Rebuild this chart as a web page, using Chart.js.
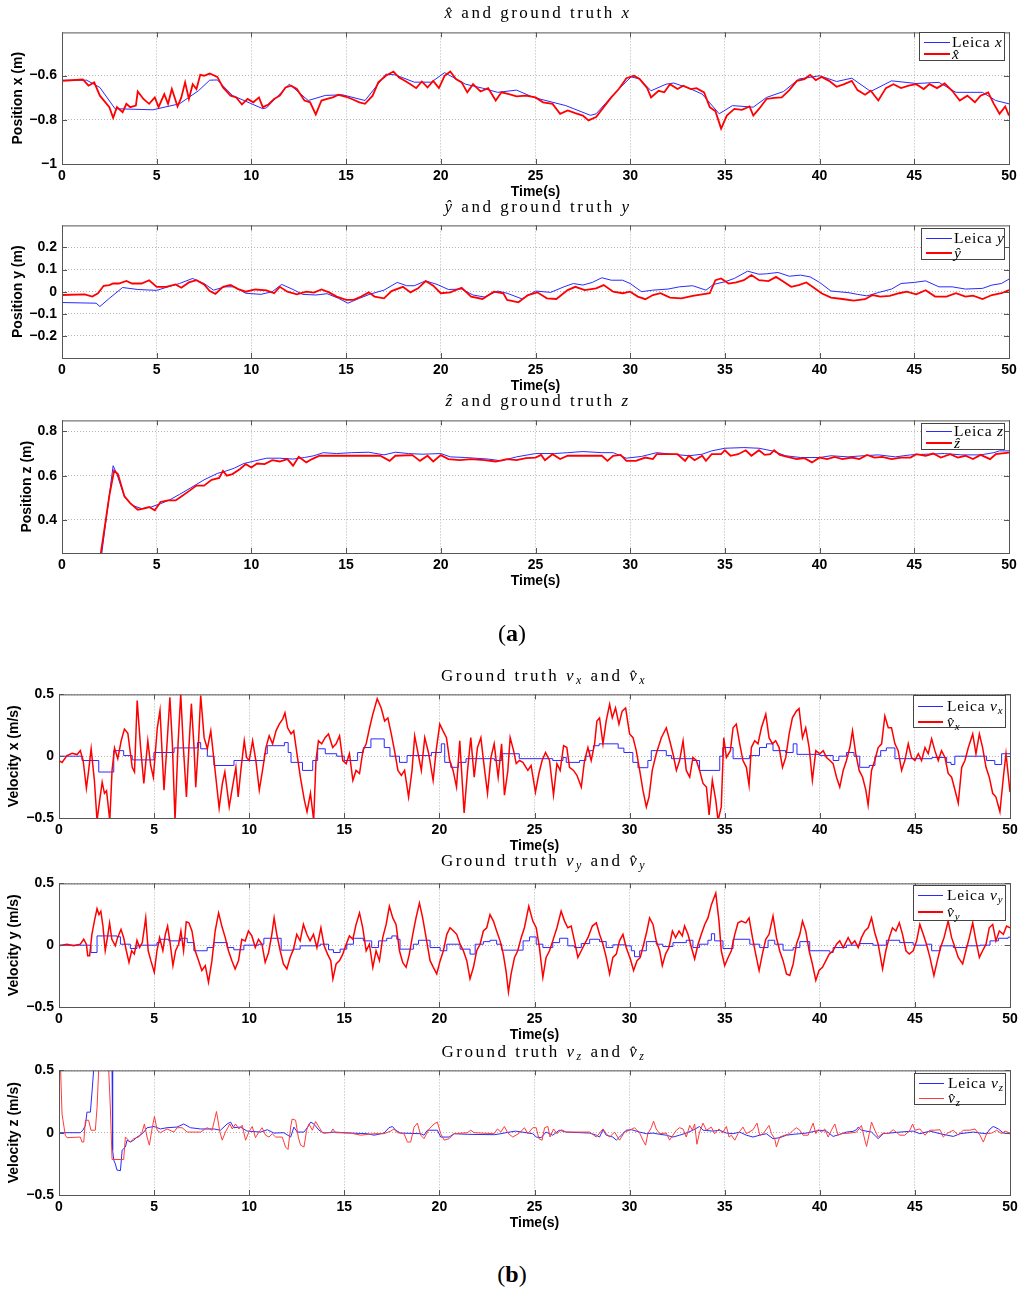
<!DOCTYPE html>
<html>
<head>
<meta charset="utf-8">
<script src="https://cdn.jsdelivr.net/npm/chart.js@4.4.1/dist/chart.umd.min.js"></script>
<style>
  body { margin: 0; background: #fff; }
  #page { position: relative; width: 1024px; height: 1291px; overflow: hidden; background: #fff; }
  #page canvas { position: absolute; left: 0; }
  .ttl { position: absolute; transform: translate(-50%, -50%); font-family: 'Liberation Serif', 'DejaVu Serif', serif; font-size: 17px; letter-spacing: 2.5px; white-space: nowrap; color: #000; }
  .ttl sub, .lg sub { font-size: 70%; vertical-align: -3px; }
  .lg { position: absolute; box-sizing: border-box; background: #fff; border: 1px solid #444; font-family: 'Liberation Serif', serif; font-size: 15.5px; letter-spacing: 0.8px; color: #000; }
  .lg .row { position: absolute; height: 0; display: flex; align-items: center; white-space: nowrap; }
  .lg .sw { display: inline-block; }
  .tag { position: absolute; transform: translate(-50%, -50%); font-family: 'Liberation Serif', serif; font-size: 24px; }
</style>
</head>
<body>
<div id="page"></div>
<script>
// tick positions
const timeTicks = [0, 5, 10, 15, 20, 25, 30, 35, 40, 45, 50];
const posXTicks = [-1, -0.8, -0.6];
const posYTicks = [-0.2, -0.1, 0, 0.1, 0.2];
const posZTicks = [0.4, 0.6, 0.8];
const velTicks = [-0.5, 0, 0.5];

// [time (s), value]
const leicaPosX = [[0,-0.621],[1.3,-0.621],[2.0,-0.654],[2.8,-0.75],[4.8,-0.755],[6.2,-0.728],[7.2,-0.669],[7.8,-0.621],[8.2,-0.62],[9.0,-0.69],
  [10.6,-0.75],[10.8,-0.746],[12.0,-0.639],[13.0,-0.713],[13.9,-0.69],[14.8,-0.687],[16.0,-0.713],[17.1,-0.594],[17.6,-0.597],[18.6,-0.63],
  [19.5,-0.63],[20.2,-0.587],[21.3,-0.639],[22.2,-0.657],[23.0,-0.676],[24.0,-0.666],[24.9,-0.699],[26.6,-0.736],[27.9,-0.78],[28.2,-0.773],
  [29.3,-0.669],[30.05,-0.606],[30.5,-0.616],[31.1,-0.669],[31.9,-0.639],[32.3,-0.634],[33.1,-0.657],[33.8,-0.684],[34.7,-0.773],[35.4,-0.736],
  [36.5,-0.743],[37.2,-0.699],[38.1,-0.672],[38.9,-0.616],[40.0,-0.601],[40.9,-0.627],[41.7,-0.612],[42.7,-0.672],[43.8,-0.624],[45.1,-0.636],
  [46.3,-0.631],[47.2,-0.676],[48.6,-0.676],[49.3,-0.713],[50,-0.728]];
const estPosX = [[0,-0.624],[1.1,-0.618],[1.4,-0.646],[1.7,-0.631],[2.0,-0.691],[2.5,-0.743],[2.7,-0.791],[2.9,-0.743],[3.2,-0.766],[3.4,-0.728],
  [3.6,-0.743],[3.9,-0.736],[4.0,-0.672],[4.3,-0.706],[4.6,-0.728],[4.9,-0.699],[5.1,-0.743],[5.4,-0.684],[5.6,-0.728],[5.8,-0.661],
  [6.1,-0.74],[6.3,-0.699],[6.5,-0.631],[6.7,-0.706],[6.9,-0.639],[7.1,-0.661],[7.3,-0.597],[7.5,-0.601],[7.8,-0.591],[8.2,-0.606],
  [8.5,-0.654],[8.9,-0.691],[9.2,-0.699],[9.5,-0.731],[9.8,-0.706],[10.1,-0.721],[10.4,-0.699],[10.6,-0.743],[10.9,-0.731],[11.2,-0.706],
  [11.5,-0.691],[11.8,-0.654],[12.1,-0.646],[12.4,-0.661],[12.8,-0.713],[13.1,-0.721],[13.4,-0.776],[13.7,-0.713],[14.0,-0.706],[14.3,-0.699],
  [14.6,-0.687],[15.0,-0.696],[15.3,-0.706],[15.7,-0.721],[16.0,-0.728],[16.4,-0.691],[16.7,-0.631],[17.1,-0.601],[17.5,-0.582],[17.8,-0.609],
  [18.1,-0.624],[18.4,-0.639],[18.7,-0.657],[19.0,-0.627],[19.3,-0.654],[19.6,-0.624],[19.9,-0.657],[20.2,-0.601],[20.5,-0.582],[20.8,-0.616],
  [21.1,-0.631],[21.4,-0.676],[21.7,-0.639],[22.1,-0.672],[22.5,-0.657],[22.9,-0.713],[23.2,-0.676],[23.6,-0.684],[24.0,-0.694],[24.5,-0.691],
  [25.0,-0.699],[25.4,-0.721],[25.9,-0.728],[26.3,-0.773],[26.7,-0.758],[27.1,-0.77],[27.5,-0.781],[27.8,-0.803],[28.2,-0.788],[28.6,-0.743],
  [29.0,-0.699],[29.4,-0.661],[29.8,-0.612],[30.2,-0.601],[30.5,-0.616],[30.9,-0.657],[31.1,-0.699],[31.5,-0.669],[31.8,-0.676],[32.1,-0.639],
  [32.5,-0.661],[32.8,-0.646],[33.2,-0.661],[33.5,-0.657],[33.9,-0.676],[34.2,-0.743],[34.5,-0.761],[34.8,-0.84],[35.1,-0.781],[35.5,-0.751],
  [35.9,-0.755],[36.3,-0.74],[36.5,-0.781],[36.8,-0.751],[37.2,-0.706],[37.6,-0.701],[38.0,-0.699],[38.4,-0.666],[38.8,-0.624],[39.2,-0.616],
  [39.5,-0.597],[39.8,-0.621],[40.1,-0.606],[40.5,-0.624],[40.9,-0.651],[41.3,-0.639],[41.7,-0.624],[42.0,-0.666],[42.4,-0.687],[42.7,-0.669],
  [43.1,-0.713],[43.5,-0.657],[43.9,-0.639],[44.3,-0.657],[44.7,-0.646],[45.1,-0.639],[45.5,-0.661],[45.8,-0.639],[46.2,-0.657],[46.6,-0.636],
  [47.0,-0.669],[47.4,-0.713],[47.8,-0.691],[48.2,-0.721],[48.5,-0.691],[48.9,-0.676],[49.2,-0.728],[49.5,-0.773],[49.8,-0.74],[50,-0.781]];

const leicaPosY = [[0,-0.049],[1.8,-0.052],[2.0,-0.067],[2.5,-0.03],[3.2,0.019],[4.0,0.01],[5.0,0.006],[5.6,0.022],[6.2,0.037],[6.9,0.06],
  [7.5,0.037],[8.0,0.007],[8.6,0.022],[9.1,0.022],[9.7,-0.007],[10.5,-0.012],[11.1,0],[11.6,0.033],[12.2,0.01],[12.7,-0.012],
  [13.4,-0.015],[14.0,-0.009],[14.6,-0.03],[15.1,-0.052],[15.7,-0.03],[16.3,-0.01],[17.0,0.007],[17.7,0.042],[18.2,0.027],[18.6,0.027],
  [19.2,0.049],[19.8,0.033],[20.4,0.01],[21.1,0.012],[21.7,-0.015],[22.3,-0.024],[23.0,0.003],[23.5,-0.007],[24.3,-0.033],[25.0,0.003],
  [25.8,-0.003],[26.5,0.022],[27.0,0.037],[27.5,0.03],[28.0,0.042],[28.5,0.063],[29.0,0.052],[29.6,0.052],[30.0,0.037],[30.6,0],
  [31.2,0.007],[32.0,0.012],[32.6,0.022],[33.3,0.027],[34.0,0.007],[34.4,0.033],[35.0,0.045],[35.5,0.06],[36.2,0.093],[36.8,0.079],
  [37.2,0.081],[37.8,0.087],[38.4,0.07],[39.0,0.075],[39.5,0.067],[40.0,0.042],[40.6,0.003],[41.5,-0.004],[42.0,-0.012],[42.5,-0.019],
  [43.1,-0.004],[43.8,0.012],[44.3,0.037],[45.0,0.042],[45.6,0.049],[46.3,0.022],[47.0,0.022],[47.7,0.012],[48.6,0.015],[49.1,0.03],
  [49.6,0.037],[50,0.057]];
const estPosY = [[0,-0.015],[1.2,-0.012],[1.6,-0.022],[1.9,-0.007],[2.2,0.027],[2.5,0.03],[2.7,0.037],[3.0,0.037],[3.4,0.049],[3.7,0.037],
  [4.2,0.037],[4.6,0.052],[5.0,0.022],[5.5,0.022],[6.0,0.033],[6.3,0.018],[6.7,0.042],[7.1,0.052],[7.5,0.033],[7.8,0.003],
  [8.1,-0.01],[8.5,0.022],[8.9,0.03],[9.3,0.012],[9.7,0],[10.2,0.01],[10.8,0.006],[11.2,-0.007],[11.5,0.022],[11.9,0],
  [12.4,-0.012],[12.9,0],[13.3,-0.004],[13.7,0.01],[14.1,-0.003],[14.5,-0.022],[15.0,-0.037],[15.4,-0.037],[15.8,-0.022],[16.2,-0.003],
  [16.5,-0.022],[17.0,-0.03],[17.4,0.003],[18.0,0.022],[18.4,-0.003],[18.8,0.015],[19.2,0.048],[19.6,0.027],[20.0,-0.007],[20.5,-0.003],
  [21.1,0.018],[21.6,-0.022],[22.2,-0.033],[22.8,0],[23.3,-0.007],[23.5,-0.037],[24.1,-0.048],[24.6,-0.015],[25.1,-0.003],[25.6,-0.03],
  [26.1,-0.033],[26.7,0.007],[27.1,0.022],[27.6,0.007],[28.2,0.015],[28.6,0.03],[29.1,0],[29.6,-0.007],[30.0,0],[30.4,-0.022],
  [30.8,-0.034],[31.2,-0.015],[31.6,-0.007],[32.1,-0.027],[32.7,-0.03],[33.3,-0.019],[33.8,-0.012],[34.2,-0.007],[34.5,0.052],[34.8,0.06],
  [35.2,0.037],[35.6,0.042],[36.0,0.052],[36.4,0.075],[36.8,0.052],[37.3,0.048],[37.7,0.067],[38.1,0.045],[38.5,0.022],[38.9,0.03],
  [39.3,0.042],[39.7,0.018],[40.1,-0.007],[40.6,-0.027],[41.2,-0.033],[41.8,-0.04],[42.4,-0.034],[42.8,-0.015],[43.2,-0.022],[43.7,-0.019],
  [44.2,-0.007],[44.6,0],[45.1,-0.012],[45.6,0.007],[46.1,-0.022],[46.7,-0.022],[47.2,-0.007],[47.7,-0.022],[48.1,-0.018],[48.6,-0.033],
  [49.1,-0.015],[49.6,-0.007],[50,0.007]];

const leicaPosZ = [[0,0],[1.75,0],[2.1,0.249],[2.7,0.645],[2.9,0.607],[3.3,0.503],[3.7,0.466],[4.2,0.451],[4.7,0.458],[5.2,0.473],
  [5.7,0.491],[6.2,0.515],[6.8,0.545],[7.5,0.581],[8.2,0.61],[8.7,0.622],[9.1,0.634],[9.6,0.655],[10.2,0.667],[10.8,0.679],
  [11.5,0.679],[12.2,0.675],[12.8,0.682],[13.3,0.69],[13.8,0.704],[14.5,0.7],[15.3,0.704],[16.2,0.706],[17.0,0.694],[17.6,0.706],
  [18.3,0.7],[19.0,0.697],[20.0,0.7],[20.5,0.685],[21.3,0.682],[22.5,0.675],[23.2,0.667],[24.0,0.685],[25.0,0.7],[26.0,0.7],
  [26.7,0.704],[27.5,0.709],[28.5,0.704],[29.1,0.704],[29.8,0.679],[30.6,0.687],[31.4,0.704],[32.2,0.697],[33.1,0.69],[33.8,0.697],
  [34.3,0.712],[35.0,0.724],[36.0,0.727],[36.8,0.724],[37.5,0.712],[38.2,0.69],[39.0,0.682],[40.0,0.682],[40.6,0.69],[41.5,0.685],
  [42.3,0.69],[43.1,0.694],[44.0,0.685],[44.8,0.694],[45.6,0.697],[46.6,0.7],[47.5,0.694],[48.5,0.694],[49.2,0.704],[49.5,0.712],[50,0.712]];
const estPosZ = [[0,0],[1.7,0],[2.05,0.249],[2.5,0.51],[2.75,0.622],[2.95,0.607],[3.3,0.506],[3.6,0.476],[4.0,0.446],[4.3,0.451],
  [4.6,0.458],[4.9,0.443],[5.2,0.481],[5.6,0.488],[6.0,0.488],[6.3,0.506],[6.7,0.53],[7.1,0.555],[7.5,0.555],[7.9,0.581],
  [8.3,0.59],[8.5,0.622],[8.7,0.6],[9.0,0.607],[9.4,0.63],[9.7,0.652],[10.0,0.637],[10.3,0.655],[10.7,0.652],[11.1,0.67],
  [11.5,0.664],[11.9,0.675],[12.2,0.645],[12.5,0.685],[12.9,0.66],[13.2,0.675],[13.6,0.69],[14.2,0.69],[15.0,0.69],[16.0,0.69],
  [16.8,0.69],[17.3,0.667],[17.6,0.69],[18.5,0.693],[18.9,0.667],[19.3,0.69],[19.6,0.664],[20.0,0.693],[20.4,0.675],[21.0,0.67],
  [21.6,0.675],[22.3,0.67],[22.9,0.664],[23.5,0.675],[24.0,0.67],[24.5,0.679],[25.0,0.682],[25.3,0.694],[25.5,0.67],[25.9,0.697],
  [26.3,0.675],[26.7,0.69],[28.5,0.69],[28.8,0.667],[29.1,0.69],[29.5,0.694],[29.8,0.667],[30.3,0.667],[30.8,0.682],[31.2,0.675],
  [31.4,0.697],[32.5,0.697],[32.9,0.667],[33.1,0.69],[33.4,0.67],[33.8,0.69],[34.0,0.667],[34.3,0.697],[34.8,0.697],[35.0,0.715],
  [35.3,0.69],[35.7,0.697],[36.1,0.715],[36.4,0.69],[36.8,0.715],[37.1,0.694],[37.4,0.697],[37.6,0.715],[37.9,0.694],[38.3,0.685],
  [38.8,0.675],[39.2,0.679],[39.6,0.66],[40.0,0.682],[40.4,0.675],[40.8,0.685],[41.2,0.675],[41.7,0.682],[42.1,0.675],[42.5,0.694],
  [42.9,0.682],[43.3,0.685],[43.8,0.675],[44.3,0.682],[44.8,0.682],[45.1,0.697],[45.6,0.69],[46.0,0.7],[46.4,0.682],[46.9,0.697],
  [47.3,0.682],[47.7,0.69],[48.1,0.675],[48.5,0.694],[49.0,0.675],[49.3,0.697],[50,0.704]];

// Leica velocities are sample-and-hold: each value holds until the next time
const leicaVelX = [[0,0],[1.21,-0.035],[2.09,-0.128],[2.88,0.045],[3.4,0.005],[3.85,-0.03],[4.99,0.03],[6.05,0.067],[7.28,0.11],[7.45,0.06],
  [7.8,0],[8.15,-0.075],[9.2,-0.035],[10.8,0.02],[10.95,0.085],[11.85,0.11],[12.05,0.03],[12.2,-0.05],[12.8,-0.115],[13.34,-0.035],
  [13.6,0.06],[14.0,0.02],[14.6,0],[15.0,-0.035],[15.7,0.03],[16.0,0.07],[16.4,0.14],[17.1,0.07],[17.4,0],[17.9,-0.05],
  [18.3,0.005],[19.58,0.03],[20.1,0.1],[20.28,-0.05],[20.6,-0.09],[21.0,-0.05],[21.4,-0.02],[22.9,-0.035],[23.27,0.02],[24.2,-0.02],
  [25.96,-0.035],[26.5,-0.01],[26.67,-0.05],[27.37,-0.035],[27.7,0],[27.9,0.045],[28.1,0.085],[28.4,0.1],[29.4,0.065],[29.7,0.03],
  [30.17,-0.05],[30.44,-0.093],[30.96,-0.035],[31.14,0.045],[31.93,0.005],[32.2,-0.02],[33.33,-0.035],[33.68,-0.115],[34.74,0],[34.9,0.07],
  [35.44,-0.02],[36.3,0.005],[36.83,0.07],[37.2,0.1],[37.54,0.045],[38.2,0.03],[38.6,0.1],[38.8,0.015],[40.0,0.005],[40.7,-0.035],
  [41.0,0],[41.4,0.03],[41.8,0],[42.1,-0.09],[42.6,-0.075],[42.9,0],[43.2,0.045],[43.5,0.067],[43.95,-0.02],[45.9,-0.01],
  [46.67,-0.05],[46.9,-0.067],[47.1,0],[48.77,-0.035],[49.2,-0.067],[49.56,0.02],[50,0.02]];
const estVelX = [[0,-0.035],[0.16,-0.05],[0.42,0.005],[0.69,0.024],[0.95,0.013],[1.12,0.045],[1.27,-0.035],[1.44,-0.26],[1.56,-0.115],[1.69,0.06],
  [1.86,-0.195],[2.0,-0.52],[2.14,-0.355],[2.27,-0.21],[2.39,-0.3],[2.5,-0.28],[2.67,-0.52],[2.79,-0.115],[2.92,0.067],[3.09,-0.02],
  [3.27,0.125],[3.44,0.22],[3.62,0.185],[3.85,-0.09],[3.97,-0.128],[4.11,0.45],[4.29,0.07],[4.46,-0.22],[4.67,0.125],[4.82,-0.075],
  [4.96,-0.17],[5.17,0.23],[5.31,0.37],[5.52,-0.275],[5.69,0.125],[5.83,0.477],[5.96,0.1],[6.1,-0.52],[6.26,0.1],[6.4,0.5],
  [6.54,0.07],[6.7,-0.33],[6.84,0.1],[6.96,0.425],[7.1,0.07],[7.19,-0.25],[7.33,0.1],[7.45,0.49],[7.63,0.15],[7.8,0.06],
  [7.98,0.205],[8.15,-0.035],[8.42,-0.42],[8.59,-0.22],[8.72,-0.128],[8.95,-0.41],[9.12,-0.25],[9.3,-0.09],[9.42,-0.33],[9.56,-0.115],
  [9.74,0.125],[9.86,-0.01],[10.0,-0.035],[10.18,0.125],[10.35,-0.035],[10.53,-0.275],[10.7,-0.115],[10.88,0.07],[11.05,0.165],[11.23,0.1],
  [11.41,0.205],[11.58,0.26],[11.76,0.3],[11.88,0.35],[12.02,0.23],[12.2,0.18],[12.34,0.205],[12.51,0.02],[12.69,-0.17],[12.9,-0.355],
  [13.04,-0.45],[13.22,-0.3],[13.39,-0.52],[13.51,-0.035],[13.64,0.125],[13.81,0.1],[13.99,0.15],[14.17,0.18],[14.39,0.07],[14.57,0.1],
  [14.75,0.165],[14.92,-0.035],[15.1,-0.06],[15.27,0.02],[15.45,-0.195],[15.62,-0.115],[15.8,-0.14],[15.98,0.045],[16.15,0.1],[16.33,0.23],
  [16.5,0.34],[16.73,0.465],[16.94,0.39],[17.12,0.285],[17.29,0.31],[17.47,0.18],[17.64,0.045],[17.82,-0.115],[18.0,-0.155],[18.17,-0.115],
  [18.38,-0.33],[18.56,-0.115],[18.7,0.165],[18.88,0.02],[19.05,-0.115],[19.23,0.15],[19.44,0.02],[19.67,-0.195],[19.84,0.06],[20.02,0.26],
  [20.19,0.205],[20.37,0.15],[20.54,-0.035],[20.72,-0.115],[20.9,-0.25],[21.07,0.125],[21.3,-0.46],[21.48,-0.115],[21.65,0.15],[21.83,-0.17],
  [22.0,0.07],[22.18,0.15],[22.36,-0.09],[22.53,-0.3],[22.71,-0.01],[22.88,0.1],[23.09,-0.17],[23.27,0.1],[23.42,-0.315],[23.6,-0.115],
  [23.72,0.15],[23.9,0.045],[24.04,-0.06],[24.21,-0.035],[24.39,-0.05],[24.65,-0.115],[24.82,-0.075],[25.05,-0.29],[25.23,-0.14],[25.4,-0.035],
  [25.58,0.03],[25.79,-0.035],[26.0,-0.315],[26.18,-0.06],[26.35,-0.115],[26.53,0.085],[26.7,0.07],[26.84,-0.09],[27.05,-0.115],[27.23,-0.155],
  [27.46,-0.25],[27.63,-0.035],[27.81,0.07],[27.98,-0.035],[28.16,0.1],[28.28,0.285],[28.42,0.31],[28.6,0.1],[28.77,0.285],[28.95,0.42],
  [29.09,0.31],[29.26,0.39],[29.44,0.26],[29.61,0.365],[29.79,0.39],[30.0,0.18],[30.18,0.15],[30.35,0.045],[30.53,-0.115],[30.7,-0.275],
  [30.88,-0.41],[31.02,-0.33],[31.19,-0.115],[31.4,0.02],[31.67,0.15],[31.93,0.23],[32.11,0.125],[32.28,0.02],[32.46,-0.115],[32.63,-0.035],
  [32.81,0.125],[32.98,-0.115],[33.16,-0.17],[33.33,-0.01],[33.51,-0.035],[33.68,-0.115],[33.86,-0.22],[34.04,-0.25],[34.18,-0.475],[34.35,-0.195],
  [34.53,-0.355],[34.65,-0.52],[34.82,-0.41],[34.95,0.15],[35.09,-0.01],[35.3,0.045],[35.44,0.23],[35.61,0.26],[35.79,0.1],[35.96,-0.035],
  [36.14,-0.09],[36.28,-0.235],[36.4,0.07],[36.58,0.125],[36.75,0.1],[36.93,0.23],[37.16,0.34],[37.33,0.15],[37.51,0.1],[37.68,0.125],
  [37.86,0.07],[38.04,-0.09],[38.21,-0.01],[38.39,0.18],[38.56,0.31],[38.77,0.365],[38.91,0.385],[39.09,0.15],[39.26,0.23],[39.44,0.07],
  [39.61,-0.195],[39.79,0.045],[40.0,0.02],[40.18,0.045],[40.35,-0.01],[40.53,-0.035],[40.7,-0.06],[40.88,-0.17],[41.05,-0.25],[41.23,-0.115],
  [41.4,-0.035],[41.58,0.07],[41.72,0.205],[41.89,0.02],[42.07,-0.115],[42.25,-0.17],[42.42,-0.275],[42.54,-0.395],[42.72,-0.115],[42.89,-0.035],
  [43.07,0.07],[43.25,0.1],[43.42,0.325],[43.6,0.23],[43.77,0.23],[43.95,0.1],[44.12,0.045],[44.3,-0.115],[44.47,-0.035],[44.65,0.1],
  [44.82,-0.01],[45.0,-0.035],[45.18,0.02],[45.35,-0.035],[45.53,0.07],[45.7,0.02],[45.88,0.14],[46.05,0.045],[46.23,-0.035],[46.4,0.045],
  [46.58,-0.01],[46.75,-0.14],[46.93,-0.17],[47.11,-0.275],[47.28,-0.38],[47.46,-0.09],[47.63,-0.035],[47.81,0.07],[48.04,0.18],[48.21,0.02],
  [48.39,0.18],[48.56,0.07],[48.74,-0.09],[48.91,-0.17],[49.09,-0.3],[49.26,-0.33],[49.47,-0.45],[49.65,-0.17],[49.79,0.02],[50,-0.29]];

const leicaVelY = [[0,0],[1.68,-0.059],[2.0,0.075],[3.05,0.068],[3.23,0.008],[3.75,-0.027],[4.1,0],[5.15,0.021],[5.33,0.048],[5.77,0.035],
  [6.39,0.056],[6.74,0.021],[7.09,-0.045],[7.79,-0.019],[8.14,0.021],[8.84,-0.019],[9.19,-0.037],[9.72,0],[10.5,0.008],[10.77,0.056],
  [11.68,-0.04],[12.33,-0.032],[12.68,-0.005],[13.73,0.008],[14.17,-0.037],[14.43,-0.059],[14.78,-0.032],[15.13,0.008],[15.48,0.056],[16.0,0.035],
  [16.44,-0.019],[16.8,0.035],[17.23,0.056],[17.5,0.075],[17.76,0.048],[17.93,-0.032],[18.63,0.008],[18.9,0.04],[19.51,-0.019],[20.04,-0.045],
  [20.39,0.008],[21.09,-0.032],[21.61,-0.072],[21.88,0.008],[22.31,0.029],[22.66,0.04],[23.01,0.008],[23.28,-0.04],[24.4,0.035],[24.74,0.067],
  [25.09,0.008],[25.44,-0.019],[25.96,0.021],[26.32,0.056],[26.75,-0.005],[27.1,-0.019],[27.46,0.013],[27.9,0.048],[28.42,0.029],[28.77,-0.019],
  [29.12,0.003],[29.82,-0.005],[30.09,-0.045],[30.26,-0.093],[30.53,-0.045],[30.88,0.029],[31.4,0.008],[31.75,-0.011],[32.28,0.021],[32.98,0.04],
  [33.33,-0.019],[33.68,0.008],[34.12,0.04],[34.3,0.093],[34.47,0.035],[34.91,-0.027],[35.44,0.048],[36.32,0.008],[36.84,-0.019],[37.28,0.04],
  [37.63,0.008],[38.07,-0.04],[38.6,-0.019],[38.95,0.029],[39.47,-0.045],[40.53,-0.059],[40.7,-0.019],[41.4,0],[42.1,0.013],[42.8,0],
  [43.5,0.04],[44.2,0.021],[44.91,0],[45.6,0.008],[45.88,-0.045],[46.32,-0.005],[47.02,-0.019],[47.72,-0.005],[48.42,0],[48.95,0.035],
  [49.39,0.056],[49.9,0.065],[50,0.065]];
const estVelY = [[0,-0.005],[0.42,0.008],[0.77,-0.005],[1.12,0.008],[1.3,0.048],[1.44,0.008],[1.51,-0.085],[1.61,-0.085],[1.73,0.088],[1.86,0.195],
  [2.0,0.296],[2.1,0.248],[2.2,0.275],[2.31,0.155],[2.43,-0.045],[2.56,0.075],[2.66,0.18],[2.78,0.048],[2.96,-0.005],[3.08,0.061],
  [3.26,0.128],[3.4,0.061],[3.54,-0.045],[3.68,-0.139],[3.82,-0.045],[3.96,-0.072],[4.1,0.04],[4.24,-0.019],[4.38,0.021],[4.56,0.221],
  [4.69,-0.045],[4.83,-0.125],[5.01,-0.219],[5.15,-0.045],[5.29,0.061],[5.46,-0.045],[5.59,0.088],[5.71,0.155],[5.85,0.008],[5.99,-0.165],
  [6.13,-0.045],[6.29,0.008],[6.41,0.115],[6.55,-0.045],[6.69,0.189],[6.83,0.181],[6.99,0.115],[7.16,-0.045],[7.34,-0.125],[7.51,-0.205],
  [7.69,-0.165],[7.86,-0.299],[8.04,-0.125],[8.21,0.115],[8.39,0.261],[8.56,0.155],[8.74,0.061],[8.91,-0.045],[9.09,-0.125],[9.26,-0.192],
  [9.44,-0.125],[9.61,0.048],[9.79,0.035],[9.96,0.115],[10.14,0.075],[10.32,-0.019],[10.49,0.048],[10.67,0.008],[10.84,-0.139],[11.02,-0.059],
  [11.19,0.088],[11.31,0.221],[11.45,0.088],[11.63,-0.045],[11.8,-0.152],[11.98,-0.192],[12.15,-0.099],[12.33,-0.032],[12.5,0.088],[12.68,0.035],
  [12.85,0.168],[13.03,0.088],[13.2,0.035],[13.38,0.088],[13.56,-0.019],[13.77,0.141],[13.94,-0.005],[14.12,-0.072],[14.29,-0.125],[14.4,-0.272],
  [14.57,-0.152],[14.75,-0.125],[14.92,-0.072],[15.1,0.008],[15.27,0.075],[15.45,0.048],[15.62,0.168],[15.8,0.261],[15.97,0.141],[16.15,-0.045],
  [16.32,0.008],[16.5,-0.179],[16.67,-0.045],[16.85,-0.125],[17.02,0.061],[17.2,0.168],[17.37,0.315],[17.55,0.221],[17.72,0.168],[17.9,-0.045],
  [18.07,-0.139],[18.25,-0.179],[18.42,-0.072],[18.6,0.088],[18.77,0.221],[18.95,0.341],[19.12,0.221],[19.3,0.061],[19.51,-0.125],[19.68,-0.179],
  [19.86,-0.232],[20.04,-0.125],[20.21,-0.045],[20.39,0.088],[20.56,0.141],[20.74,0.115],[20.91,0.088],[21.09,0.008],[21.26,-0.045],[21.44,-0.125],
  [21.61,-0.272],[21.79,-0.179],[21.96,-0.045],[22.14,0.008],[22.31,0.115],[22.49,0.141],[22.66,0.248],[22.84,0.195],[23.01,0.115],[23.19,0.035],
  [23.36,-0.072],[23.5,-0.205],[23.63,-0.379],[23.77,-0.232],[23.95,-0.099],[24.12,-0.045],[24.3,0.061],[24.47,0.141],[24.7,0.315],[24.91,0.195],
  [25.09,0.141],[25.26,-0.019],[25.44,-0.259],[25.61,-0.099],[25.79,-0.045],[25.96,0.035],[26.18,0.141],[26.4,0.275],[26.58,0.195],[26.75,0.141],
  [26.93,0.155],[27.1,0.035],[27.28,-0.099],[27.46,-0.045],[27.63,0.008],[27.81,0.061],[28.04,0.155],[28.25,0.181],[28.42,0.088],[28.6,0.008],
  [28.77,-0.099],[28.95,-0.232],[29.12,-0.099],[29.3,-0.072],[29.47,0.035],[29.65,0.088],[29.82,-0.019],[30.04,-0.112],[30.21,-0.205],[30.39,-0.125],
  [30.56,-0.099],[30.74,0.008],[30.91,0.115],[31.05,0.221],[31.23,0.168],[31.4,0.035],[31.58,-0.045],[31.72,-0.165],[31.89,-0.072],[32.07,-0.019],
  [32.25,0.115],[32.42,0.061],[32.6,0.115],[32.77,0.075],[32.89,0.155],[33.07,0.088],[33.25,-0.019],[33.42,-0.112],[33.6,0.008],[33.77,0.088],
  [33.95,0.168],[34.12,0.221],[34.3,0.328],[34.53,0.421],[34.7,0.195],[34.82,-0.045],[35.0,-0.165],[35.18,-0.099],[35.35,-0.045],[35.53,0.088],
  [35.7,0.181],[35.88,0.195],[36.11,0.181],[36.28,0.221],[36.46,0.061],[36.63,-0.072],[36.81,-0.205],[36.98,-0.072],[37.16,0.048],[37.33,0.088],
  [37.54,0.235],[37.72,0.061],[37.89,-0.045],[38.07,-0.125],[38.25,-0.232],[38.42,-0.245],[38.6,-0.152],[38.77,0.008],[38.95,0.088],[39.09,0.195],
  [39.26,0.115],[39.44,-0.045],[39.61,-0.152],[39.79,-0.285],[39.96,-0.205],[40.14,-0.179],[40.32,-0.125],[40.49,-0.072],[40.7,-0.045],[40.88,0.008],
  [41.05,0.035],[41.23,-0.019],[41.49,0.061],[41.67,0.008],[41.84,0.035],[42.02,-0.019],[42.19,0.061],[42.37,0.115],[42.54,0.141],[42.72,0.221],
  [42.89,0.101],[43.07,0.008],[43.3,-0.192],[43.47,-0.045],[43.65,0.061],[43.82,0.141],[44.0,0.115],[44.18,0.181],[44.35,0.088],[44.53,-0.045],
  [44.7,-0.072],[44.91,-0.045],[45.09,0.035],[45.26,0.168],[45.44,0.088],[45.61,0.008],[45.79,-0.099],[46.0,-0.245],[46.18,-0.125],[46.35,-0.019],
  [46.53,0.061],[46.75,0.195],[46.93,0.061],[47.11,-0.019],[47.28,-0.099],[47.51,-0.152],[47.68,-0.045],[47.86,0.061],[48.04,0.181],[48.21,0.035],
  [48.39,-0.099],[48.56,-0.045],[48.74,0.008],[48.91,0.141],[49.09,0.168],[49.26,0.035],[49.44,0.115],[49.65,0.088],[49.82,0.155],[50,0.141]];

const leicaVelZ = [[0,0],[1.12,0],[1.26,0.02],[1.39,0.06],[1.47,0.165],[1.65,0.165],[1.74,0.335],[1.82,0.5],[1.9,0.9],[2.7,0.9],
  [2.79,0.5],[2.82,-0.14],[2.88,-0.22],[2.96,-0.25],[3.05,-0.3],[3.23,-0.305],[3.32,-0.14],[3.49,-0.115],[3.58,-0.06],[3.75,-0.075],
  [3.93,-0.06],[4.1,-0.035],[4.28,-0.02],[4.46,0.005],[4.63,0.04],[5.0,0.05],[5.33,0.03],[5.68,0.04],[6.2,0.045],[6.56,0.07],
  [6.91,0.04],[7.44,0.03],[8.14,0.03],[8.49,0.02],[8.84,0.07],[9.02,0.085],[9.19,0.04],[9.54,0.045],[9.89,0.013],[10.6,0.005],
  [10.95,0.024],[11.3,-0.003],[11.82,0],[12.18,-0.035],[12.35,0.045],[12.53,0.005],[12.88,0.005],[13.05,0.04],[13.23,0.085],[13.4,0.07],
  [13.67,0.02],[13.93,-0.003],[14.46,0.005],[15.33,-0.003],[16.21,-0.008],[16.56,-0.02],[17.09,-0.003],[17.35,0.04],[17.53,0.05],[17.7,0.02],
  [17.96,-0.003],[19.02,-0.008],[19.19,-0.02],[19.37,0.02],[19.89,0.02],[20.07,-0.035],[20.51,-0.035],[20.77,-0.008],[21.47,-0.013],[22.88,-0.016],
  [23.23,-0.008],[23.5,0],[24.0,0.013],[24.9,-0.008],[25.1,-0.035],[25.35,-0.04],[25.6,0.005],[25.96,-0.02],[26.3,0.02],[26.67,0.005],
  [27.9,-0.003],[28.25,-0.02],[28.42,-0.035],[28.6,0.024],[28.77,-0.02],[29.12,-0.035],[29.3,-0.06],[29.47,-0.035],[29.82,0.02],[30.09,0.024],
  [30.53,0.005],[30.88,-0.008],[31.23,-0.003],[31.58,-0.013],[31.93,-0.02],[32.28,-0.035],[32.63,-0.02],[32.98,-0.003],[33.33,0.02],[33.68,0.05],
  [33.86,0.02],[34.39,0.013],[34.74,0.02],[35.09,-0.003],[35.44,-0.008],[35.79,0.005],[36.14,-0.02],[36.49,-0.035],[36.84,-0.02],[37.19,-0.008],
  [37.54,-0.048],[37.89,-0.04],[38.25,-0.02],[38.6,-0.013],[38.95,-0.008],[39.3,-0.003],[40.0,0.02],[40.35,0.013],[40.7,-0.03],[41.05,-0.013],
  [41.4,0.005],[41.75,0.011],[41.93,0.024],[42.02,0.045],[42.19,0.02],[42.72,0.005],[43.07,-0.048],[43.33,-0.008],[44.21,0.005],[44.91,0.013],
  [45.26,-0.008],[45.79,0.013],[46.32,-0.008],[47.02,-0.03],[47.37,-0.008],[48.07,0.005],[48.42,-0.003],[48.77,-0.008],[48.95,0.03],[49.12,0.05],
  [49.39,0.03],[49.65,-0.003],[50,-0.008]];
const estVelZ = [[0,0.9],[0.16,0.15],[0.33,-0.02],[0.42,-0.04],[1.12,-0.035],[1.21,-0.075],[1.3,-0.075],[1.39,0.1],[1.56,0.1],[1.68,0.02],
  [1.91,0.02],[2.0,0.2],[2.2,0.9],[2.5,0.9],[2.7,0.2],[2.79,-0.215],[3.4,-0.215],[3.49,-0.035],[3.75,-0.075],[3.93,-0.048],
  [4.19,-0.035],[4.37,0.005],[4.49,0.07],[4.63,-0.035],[4.75,-0.1],[4.89,0.03],[5.02,0.13],[5.16,0.02],[5.33,0],[5.68,0.03],
  [6.04,0.005],[6.21,0.04],[6.47,0.04],[6.74,0.005],[7.44,0.005],[7.79,0.04],[8.05,0.02],[8.28,0.17],[8.46,0.005],[8.58,-0.06],
  [8.75,0.005],[8.98,0.07],[9.11,0.03],[9.28,0.07],[9.46,0.03],[9.63,0.06],[9.81,-0.06],[9.98,0.005],[10.16,0.05],[10.33,-0.04],
  [10.51,0.005],[10.68,0.04],[10.86,-0.02],[11.04,-0.035],[11.21,-0.008],[11.39,-0.035],[11.74,-0.035],[11.91,-0.115],[12.04,-0.135],[12.18,0.045],
  [12.26,0.11],[12.44,0.1],[12.58,-0.035],[12.7,-0.1],[12.88,-0.115],[13.02,0.02],[13.14,0.07],[13.32,0.02],[13.49,0.09],[13.67,0.045],
  [13.84,0],[14.28,0],[14.4,0.03],[14.54,0],[15.33,-0.003],[15.86,-0.02],[16.56,-0.008],[17.09,-0.008],[17.44,0.013],[17.61,0.03],
  [17.79,0],[18.14,-0.008],[18.32,-0.075],[18.49,-0.075],[18.67,0.045],[18.84,0.077],[19.02,-0.02],[19.19,-0.048],[19.46,0.03],[19.72,0.07],
  [19.89,0.085],[20.07,-0.008],[20.25,-0.06],[20.51,-0.048],[20.77,-0.008],[21.47,0],[21.65,0.02],[21.82,0],[22.88,-0.008],[23.05,0.03],
  [23.23,0.005],[23.42,0.05],[23.6,-0.003],[23.86,-0.035],[24.21,-0.003],[24.47,0.04],[24.65,-0.008],[24.91,0.04],[25.09,0.04],[25.23,-0.048],
  [25.4,-0.06],[25.53,0.04],[25.7,0.05],[25.82,-0.035],[26.0,0.03],[26.18,-0.008],[26.4,0.024],[26.67,0.005],[27.9,0.005],[28.25,-0.035],
  [28.6,0.03],[28.77,-0.008],[28.95,-0.035],[29.21,0.005],[29.47,-0.06],[29.74,0.005],[30.0,0.02],[30.26,0.04],[30.53,-0.003],[30.7,-0.06],
  [30.84,-0.1],[30.96,-0.008],[31.14,0.04],[31.26,0.093],[31.4,0.03],[31.58,-0.008],[31.93,-0.003],[32.1,-0.06],[32.28,-0.02],[32.46,0.02],
  [32.63,0.04],[32.81,0.03],[32.98,-0.035],[33.16,0.058],[33.3,0.02],[33.42,0.07],[33.54,-0.093],[33.68,0.005],[33.86,0.077],[34.04,0.02],
  [34.3,0.045],[34.47,-0.008],[34.7,0.03],[34.88,-0.003],[35.09,0.05],[35.23,-0.035],[35.35,-0.02],[35.53,-0.06],[35.7,-0.008],[35.96,0.045],
  [36.14,-0.008],[36.49,0.024],[36.7,0.077],[36.84,-0.02],[37.02,-0.008],[37.33,0.058],[37.46,-0.008],[37.63,-0.048],[37.72,-0.115],[37.89,-0.035],
  [38.16,-0.02],[38.42,-0.008],[38.6,0.02],[38.77,0.04],[38.95,0.02],[39.12,-0.02],[39.39,-0.02],[39.65,0.077],[39.79,-0.008],[39.91,0.024],
  [40.09,0.005],[40.26,0.03],[40.44,-0.035],[40.61,0.02],[40.79,0.07],[40.96,-0.02],[41.14,-0.008],[41.58,-0.003],[41.93,0.005],[42.19,0.058],
  [42.37,-0.06],[42.46,-0.11],[42.6,-0.008],[42.72,0.085],[42.89,0.02],[43.07,-0.035],[43.33,-0.003],[43.6,-0.008],[43.86,0.024],[44.21,-0.02],
  [44.47,-0.02],[44.74,0.02],[44.88,0.07],[45.0,0.02],[45.26,0.03],[45.53,-0.02],[45.79,0.02],[46.05,0.02],[46.32,0.024],[46.49,-0.035],
  [46.67,-0.008],[47.02,0.02],[47.28,-0.02],[47.54,0.02],[47.89,0.02],[48.16,0.03],[48.42,-0.02],[48.6,-0.075],[48.77,-0.008],[49.04,-0.003],
  [49.3,0.02],[49.56,-0.008],[49.74,0.013],[50,-0.003]];

const BLUE = '#2a2aff';
const RED = '#ff0000';
const AXIS = '#555555';
const GRID = '#b4b4b4';

const panels = [
  { plot: [62, 1009, 31, 164], yMin: -1, yMax: -0.405, yTicks: posXTicks, yLabel: 'Position x (m)', yLabelX: 18,
    leica: leicaPosX, est: estPosX, estWidth: 1.8, estColor: RED, stepped: false,
    title: '<i>x&#770;</i> and ground truth <i>x</i>', titleAt: [538, 13],
    legend: [919, 32, 86, 29, 9, 21, 5, 26, 2], leicaText: 'Leica <i>x</i>', estText: '<i>x&#770;</i>' },
  { plot: [62, 1009, 224, 358], yMin: -0.3, yMax: 0.3, yTicks: posYTicks, yLabel: 'Position y (m)', yLabelX: 18,
    leica: leicaPosY, est: estPosY, estWidth: 1.8, estColor: RED, stepped: false,
    title: '<i>y&#770;</i> and ground truth <i>y</i>', titleAt: [538, 207],
    legend: [921, 228, 84, 32, 9, 24, 5, 26, 2], leicaText: 'Leica <i>y</i>', estText: '<i>y&#770;</i>' },
  { plot: [62, 1009, 419, 553], yMin: 0.25, yMax: 0.85, yTicks: posZTicks, yLabel: 'Position z (m)', yLabelX: 27,
    leica: leicaPosZ, est: estPosZ, estWidth: 1.8, estColor: RED, stepped: false,
    title: '<i>z&#770;</i> and ground truth <i>z</i>', titleAt: [538, 401],
    legend: [921, 423, 84, 27, 7, 19, 5, 26, 2], leicaText: 'Leica <i>z</i>', estText: '<i>z&#770;</i>' },
  { plot: [59, 1010, 693, 818], yMin: -0.5, yMax: 0.5, yTicks: velTicks, yLabel: 'Velocity x (m/s)', yLabelX: 14,
    leica: leicaVelX, est: estVelX, estWidth: 1.5, estColor: RED, stepped: true,
    title: 'Ground truth <i>v</i><sub><i>x</i></sub> and <i>v&#770;</i><sub><i>x</i></sub>', titleAt: [544, 677],
    legend: [913, 695, 93, 33, 10, 26, 5, 25, 4], leicaText: 'Leica <i>v</i><sub><i>x</i></sub>', estText: '<i>v&#770;</i><sub><i>x</i></sub>' },
  { plot: [59, 1010, 882, 1007], yMin: -0.5, yMax: 0.5, yTicks: velTicks, yLabel: 'Velocity y (m/s)', yLabelX: 14,
    leica: leicaVelY, est: estVelY, estWidth: 1.5, estColor: RED, stepped: true,
    title: 'Ground truth <i>v</i><sub><i>y</i></sub> and <i>v&#770;</i><sub><i>y</i></sub>', titleAt: [544, 862],
    legend: [913, 885, 93, 36, 9, 26, 5, 25, 4], leicaText: 'Leica <i>v</i><sub><i>y</i></sub>', estText: '<i>v&#770;</i><sub><i>y</i></sub>' },
  { plot: [59, 1010, 1069, 1195], yMin: -0.5, yMax: 0.5, yTicks: velTicks, yLabel: 'Velocity z (m/s)', yLabelX: 14,
    leica: leicaVelZ, est: estVelZ, estWidth: 1, estColor: '#ff3b3b', stepped: false,
    title: 'Ground truth <i>v</i><sub><i>z</i></sub> and <i>v&#770;</i><sub><i>z</i></sub>', titleAt: [544, 1053],
    legend: [914, 1073, 92, 32, 9, 24, 5, 25, 4], leicaText: 'Leica <i>v</i><sub><i>z</i></sub>', estText: '<i>v&#770;</i><sub><i>z</i></sub>' },
];

const tags = [['(<b>a</b>)', 512, 633], ['(<b>b</b>)', 512, 1274]];

Chart.defaults.font.family = "'Liberation Sans', Arial, sans-serif";
Chart.defaults.font.size = 14;
Chart.defaults.font.weight = 'bold';
Chart.defaults.color = '#000';

const toPoints = (rows) => rows.map(([x, y]) => ({ x, y }));
const fmtTick = (v) => (v === 0 ? '0' : (v < 0 ? '\u2212' : '') + Math.abs(v));

// MATLAB style box with inward tick marks on all four sides
const boxPlugin = {
  id: 'box',
  afterDatasetsDraw(chart) {
    const { ctx, chartArea: a, scales } = chart;
    ctx.save();
    ctx.strokeStyle = AXIS;
    ctx.lineWidth = 1;
    ctx.beginPath();
    for (const t of scales.x.ticks) {
      const px = Math.round(scales.x.getPixelForValue(t.value)) + 0.5;
      ctx.moveTo(px, a.bottom); ctx.lineTo(px, a.bottom - 5);
      ctx.moveTo(px, a.top); ctx.lineTo(px, a.top + 5);
    }
    for (const t of scales.y.ticks) {
      const py = Math.round(scales.y.getPixelForValue(t.value)) + 0.5;
      ctx.moveTo(a.left, py); ctx.lineTo(a.left + 5, py);
      ctx.moveTo(a.right, py); ctx.lineTo(a.right - 5, py);
    }
    ctx.stroke();
    ctx.strokeRect(a.left + 0.5, a.top + 0.5, a.right - a.left, a.bottom - a.top);
    ctx.restore();
  },
};

const page = document.getElementById('page');

function addHtml(cls, html, style) {
  const el = document.createElement('div');
  el.className = cls;
  el.innerHTML = html;
  Object.assign(el.style, style);
  page.appendChild(el);
  return el;
}

function makePanel(p) {
  const [left, right, top, bottom] = p.plot;
  const canvasTop = top - 12;
  const canvas = document.createElement('canvas');
  canvas.width = 1024;
  canvas.height = bottom + 40 - canvasTop;
  canvas.style.top = canvasTop + 'px';
  page.appendChild(canvas);

  new Chart(canvas, {
    type: 'line',
    data: {
      datasets: [
        { label: 'Leica', data: toPoints(p.leica), borderColor: BLUE, borderWidth: 1, pointRadius: 0, tension: 0, stepped: p.stepped, order: 1 },
        { label: 'estimate', data: toPoints(p.est), borderColor: p.estColor, borderWidth: p.estWidth, pointRadius: 0, tension: 0, order: 0 },
      ],
    },
    options: {
      responsive: false,
      animation: false,
      events: [],
      layout: { padding: { top: 12, right: 1024 - right, left: 0, bottom: 0 } },
      plugins: { legend: { display: false }, tooltip: { enabled: false } },
      scales: {
        x: {
          type: 'linear', min: 0, max: 50,
          afterBuildTicks: (s) => { s.ticks = timeTicks.map((v) => ({ value: v })); },
          afterFit: (s) => { s.height = 40; },
          grid: { color: GRID, drawTicks: false },
          border: { display: false, dash: [1, 2] },
          ticks: { padding: 4, autoSkip: false, maxRotation: 0, callback: fmtTick },
          title: { display: true, text: 'Time(s)', padding: { top: 0, bottom: 3.6 } },
        },
        y: {
          type: 'linear', min: p.yMin, max: p.yMax,
          afterBuildTicks: (s) => { s.ticks = p.yTicks.map((v) => ({ value: v })); },
          afterFit: (s) => { s.width = left; },
          grid: { color: GRID, drawTicks: false },
          border: { display: false, dash: [1, 2] },
          ticks: { padding: 5, autoSkip: false, callback: fmtTick },
          title: { display: true, text: p.yLabel, padding: { top: p.yLabelX - 8.4, bottom: 0 } },
        },
      },
    },
    plugins: [boxPlugin],
  });

  addHtml('ttl', p.title, { left: p.titleAt[0] + 'px', top: p.titleAt[1] + 'px' });

  const [lx, ly, lw, lh, r1, r2, swLeft, swLen, gap] = p.legend;
  const lg = addHtml('lg', '', { left: lx + 'px', top: ly + 'px', width: lw + 'px', height: lh + 'px' });
  [[p.leicaText, BLUE, 1, r1], [p.estText, p.estColor, p.estWidth, r2]].forEach(([text, color, w, y]) => {
    const row = document.createElement('div');
    row.className = 'row';
    row.style.left = swLeft - 1 + 'px';
    row.style.top = y + 'px';
    row.innerHTML = `<span class="sw" style="width:${swLen}px;height:${Math.max(1, Math.round(w))}px;background:${color};margin-right:${gap}px"></span><span>${text}</span>`;
    lg.appendChild(row);
  });
}

panels.forEach(makePanel);
tags.forEach(([html, x, y]) => addHtml('tag', html, { left: x + 'px', top: y + 'px' }));
</script>
</body>
</html>
